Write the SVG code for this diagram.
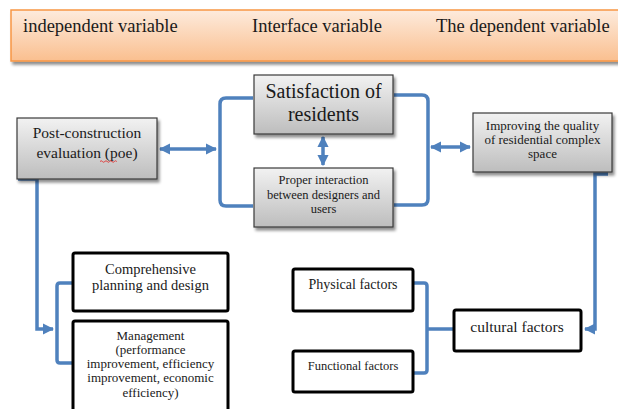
<svg xmlns="http://www.w3.org/2000/svg" width="618" height="409" viewBox="0 0 618 409">
<defs>
<linearGradient id="gOrange" x1="0" y1="0" x2="0" y2="1">
<stop offset="0" stop-color="#fdebdd"/>
<stop offset="1" stop-color="#fabf8f"/>
</linearGradient>
<linearGradient id="gGray" x1="0" y1="0" x2="0" y2="1">
<stop offset="0" stop-color="#f2f2f2"/>
<stop offset="1" stop-color="#bdbdbd"/>
</linearGradient>
<filter id="sh" x="-10%" y="-10%" width="125%" height="130%">
<feGaussianBlur in="SourceAlpha" stdDeviation="1.5"/>
<feOffset dx="2" dy="2.5" result="b"/>
<feComponentTransfer><feFuncA type="linear" slope="0.45"/></feComponentTransfer>
<feMerge><feMergeNode/><feMergeNode in="SourceGraphic"/></feMerge>
</filter>
<marker id="ah" viewBox="0 0 10 10" refX="9" refY="5" markerWidth="3.2" markerHeight="3.2" orient="auto-start-reverse" markerUnits="strokeWidth">
<path d="M0,0 L10,5 L0,10 z" fill="#4f81bd"/>
</marker>
</defs>
<style>
.t{font-family:'Liberation Serif',serif !important;fill:#1a1a1a;text-anchor:middle}
.gray{fill:url(#gGray);stroke:#3a3a3a;stroke-width:1.2;filter:url(#sh)}
.blk{fill:#fff;stroke:#000;stroke-width:3}
.c{fill:none;stroke:#4f81bd;stroke-width:3.5;stroke-linejoin:round}
.arr{fill:none;stroke:#4f81bd;stroke-width:3.5}
</style>

<g id="header">
<rect x="11" y="10" width="612" height="51" fill="url(#gOrange)" stroke="#f79646" stroke-width="1.5" filter="url(#sh)"/>
<text class="t" x="23" y="32" style="font-family:'Liberation Serif',serif;font-size:18.5px;text-anchor:start">independent variable</text>
<text class="t" x="252" y="32" style="font-family:'Liberation Serif',serif;font-size:18.5px;text-anchor:start">Interface variable</text>
<text class="t" x="436" y="32" style="font-family:'Liberation Serif',serif;font-size:18.5px;text-anchor:start">The dependent variable</text>
</g>

<g id="connectors">
<line class="arr" x1="160" y1="149" x2="216" y2="149" marker-start="url(#ah)" marker-end="url(#ah)"/>
<path class="c" d="M253,98 H226 Q220,98 220,104 V200 Q220,206 226,206 H253"/>
<line class="arr" x1="323" y1="137" x2="323" y2="165" marker-start="url(#ah)" marker-end="url(#ah)"/>
<path class="c" d="M394,95 H422 Q428,95 428,101 V199 Q428,205 422,205 H394"/>
<line class="arr" x1="431" y1="147" x2="470" y2="147" marker-start="url(#ah)" marker-end="url(#ah)"/>
<path class="arr" d="M608,174 H595 V329 H585" marker-end="url(#ah)"/>
<path class="c" d="M413,283 H424 Q427,283 427,286 V370 Q427,373 424,373 H413"/>
<line class="c" x1="427" y1="329" x2="454" y2="329"/>
<path class="arr" d="M18,179 H37 V329 H53" marker-end="url(#ah)"/>
<path class="c" d="M73,283 H60 Q57,283 57,286 V360 Q57,363 60,363 H73"/>
</g>

<g id="poe">
<rect class="gray" x="17" y="118" width="140" height="61"/>
<text class="t" x="87" y="138" style="font-family:'Liberation Serif',serif;font-size:15.5px">Post-construction</text>
<text class="t" x="87" y="158" style="font-family:'Liberation Serif',serif;font-size:15.5px">evaluation (poe)</text>
<path d="M100,161.5 q1.2,-1.5 2.4,0 t2.4,0 t2.4,0 t2.4,0 t2.4,0 t2.4,0 t2.4,0" fill="none" stroke="#e03030" stroke-width="0.9"/>
</g>

<g id="satisfaction">
<rect class="gray" x="254" y="75" width="139" height="59"/>
<text class="t" x="323.5" y="98" style="font-family:'Liberation Serif',serif;font-size:20px">Satisfaction of</text>
<text class="t" x="323.5" y="121" style="font-family:'Liberation Serif',serif;font-size:20px">residents</text>
</g>

<g id="interaction">
<rect class="gray" x="254" y="168" width="139" height="59"/>
<text class="t" x="323.5" y="184" style="font-family:'Liberation Serif',serif;font-size:12.5px">Proper interaction</text>
<text class="t" x="323.5" y="198.5" style="font-family:'Liberation Serif',serif;font-size:12.5px">between designers and</text>
<text class="t" x="323.5" y="213" style="font-family:'Liberation Serif',serif;font-size:12.5px">users</text>
</g>

<g id="improving">
<rect class="gray" x="473" y="113" width="139" height="59"/>
<text class="t" x="542.5" y="130" style="font-family:'Liberation Serif',serif;font-size:13px">Improving the quality</text>
<text class="t" x="542.5" y="144" style="font-family:'Liberation Serif',serif;font-size:13px">of residential complex</text>
<text class="t" x="542.5" y="158" style="font-family:'Liberation Serif',serif;font-size:13px">space</text>
</g>

<g id="comprehensive">
<rect class="blk" x="73" y="253" width="155" height="58" rx="2"/>
<text class="t" x="150.5" y="274" style="font-family:'Liberation Serif',serif;font-size:14.5px">Comprehensive</text>
<text class="t" x="150.5" y="290" style="font-family:'Liberation Serif',serif;font-size:14.5px">planning and design</text>
</g>

<g id="management">
<rect class="blk" x="73" y="321" width="155" height="95" rx="2"/>
<text class="t" x="150.5" y="340" style="font-family:'Liberation Serif',serif;font-size:13px">Management</text>
<text class="t" x="150.5" y="354" style="font-family:'Liberation Serif',serif;font-size:13px">(performance</text>
<text class="t" x="150.5" y="368" style="font-family:'Liberation Serif',serif;font-size:13px">improvement, efficiency</text>
<text class="t" x="150.5" y="382" style="font-family:'Liberation Serif',serif;font-size:13px">improvement, economic</text>
<text class="t" x="150.5" y="397" style="font-family:'Liberation Serif',serif;font-size:13px">efficiency)</text>
</g>

<g id="physical">
<rect class="blk" x="293" y="269" width="120" height="42" rx="2"/>
<text class="t" x="353" y="289" style="font-family:'Liberation Serif',serif;font-size:14px">Physical factors</text>
</g>

<g id="functional">
<rect class="blk" x="293" y="351" width="120" height="41" rx="2"/>
<text class="t" x="353" y="370" style="font-family:'Liberation Serif',serif;font-size:12.5px">Functional factors</text>
</g>

<g id="cultural">
<rect class="blk" x="454" y="310" width="127" height="41" rx="2"/>
<text class="t" x="517" y="332" style="font-family:'Liberation Serif',serif;font-size:15.5px">cultural factors</text>
</g>
</svg>
